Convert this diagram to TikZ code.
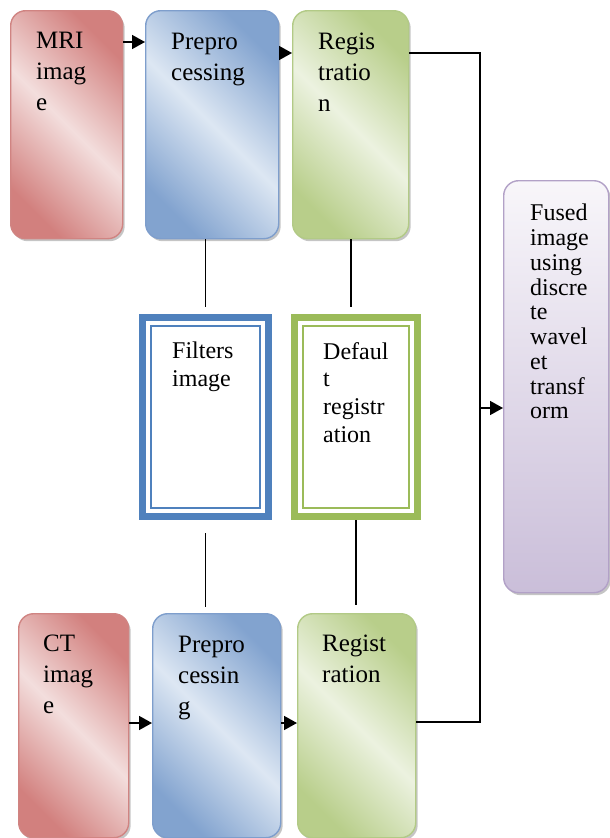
\documentclass[tikz,border=0pt]{standalone}
\usepackage{fontspec}
\setmainfont{Liberation Serif}
\usetikzlibrary{arrows.meta,shadows}

\definecolor{redline}{RGB}{208,132,130}
\definecolor{reddark}{RGB}{210,128,126}
\definecolor{redlight}{RGB}{243,222,221}
\definecolor{blueline}{RGB}{126,158,204}
\definecolor{bluedark}{RGB}{130,163,207}
\definecolor{bluelight}{RGB}{221,231,243}
\definecolor{greenline}{RGB}{178,202,134}
\definecolor{greendark}{RGB}{184,206,138}
\definecolor{greenlight}{RGB}{236,242,224}
\definecolor{purpleline}{RGB}{178,161,199}
\definecolor{purpletop}{RGB}{248,246,250}
\definecolor{purplebot}{RGB}{202,190,217}
\definecolor{frameblue}{RGB}{79,129,189}
\definecolor{framegreen}{RGB}{155,187,89}

\tikzset{
	stage/.style={rectangle, rounded corners=15pt, line width=1.4pt, anchor=north west,
		drop shadow={shadow xshift=2pt, shadow yshift=-2.5pt, fill=black!45}},
	redstage/.style={stage, draw=redline, top color=reddark, bottom color=reddark,
		middle color=redlight, shading angle=-45},
	bluestage/.style={stage, draw=blueline, top color=bluedark, bottom color=bluedark,
		middle color=bluelight, shading angle=-45},
	greenstage/.style={stage, draw=greenline, top color=greendark, bottom color=greendark,
		middle color=greenlight, shading angle=-45},
	fusestage/.style={stage, draw=purpleline, top color=purpletop, bottom color=purplebot},
	frame/.style={rectangle, line width=7pt, fill=white, anchor=north west},
	lbl/.style={anchor=north west, inner sep=0pt, align=left, font=\fontsize{25}{31}\selectfont},
	smalllbl/.style={lbl, font=\fontsize{24}{27.7}\selectfont},
	conn/.style={line width=1.6pt},
	arr/.style={conn, -{Triangle[length=13pt,width=14pt]}}
}

\begin{document}
\begin{tikzpicture}[x=1pt,y=-1pt]
		\useasboundingbox (0,0) rectangle (610,838);

		% upper row
		\node[redstage, minimum width=112pt, minimum height=228pt] (mri) at (10,10) {};
		\node[bluestage, minimum width=133pt, minimum height=228pt] (prepa) at (145,10) {};
		\node[greenstage, minimum width=116pt, minimum height=228pt] (rega) at (292,10) {};
		\node[lbl] (mritxt) at ([shift={(26pt,-22pt)}]mri.north west) {MRI\\imag\\e};
		\node[lbl] (prepatxt) at ([shift={(26pt,-23pt)}]prepa.north west) {Prepro\\cessing};
		\node[lbl] (regatxt) at ([shift={(26pt,-23pt)}]rega.north west) {Regis\\tratio\\n};

		% lower row
		\node[redstage, minimum width=110pt, minimum height=224pt] (ct) at (18,613) {};
		\node[bluestage, minimum width=128pt, minimum height=224pt] (prepb) at (152,613) {};
		\node[greenstage, minimum width=118pt, minimum height=224pt] (regb) at (297,613) {};
		\node[lbl] (cttxt) at ([shift={(25pt,-22pt)}]ct.north west) {CT\\imag\\e};
		\node[lbl] (prepbtxt) at ([shift={(26pt,-23pt)}]prepb.north west) {Prepro\\cessin\\g};
		\node[lbl] (regbtxt) at ([shift={(25pt,-22pt)}]regb.north west) {Regist\\ration};

		% middle frames
		\node[frame, draw=frameblue, minimum width=126pt, minimum height=199pt] (filt) at (139,314) {};
		\node[frame, draw=framegreen, minimum width=123pt, minimum height=199pt] (dflt) at (291,314) {};
		\draw[frameblue, line width=1.8pt] ([shift={(12pt,12pt)}]filt.south west) rectangle ([shift={(-12pt,-12pt)}]filt.north east);
		\draw[framegreen, line width=1.8pt] ([shift={(12pt,12pt)}]dflt.south west) rectangle ([shift={(-12pt,-12pt)}]dflt.north east);
		\node[smalllbl] (filttxt) at ([shift={(33pt,-28pt)}]filt.north west) {Filters\\image};
		\node[smalllbl] (dflttxt) at ([shift={(32pt,-28pt)}]dflt.north west) {Defaul\\t\\registr\\ation};

		% output
		\node[fusestage, minimum width=105pt, minimum height=412pt] (fused) at (503,180) {};
		\node[smalllbl, font=\fontsize{24}{24.75}\selectfont] (fusedtxt) at ([shift={(27pt,-24pt)}]fused.north west)
			{Fused\\image\\using\\discre\\te\\wavel\\et\\transf\\orm};

		% arrows along the rows
		\draw[arr] ([yshift=-32pt]mri.north east) -- ([yshift=-32pt]prepa.north west);
		\draw[arr] ([yshift=-43pt]prepa.north east) -- ([yshift=-43pt]rega.north west);
		\draw[arr] ([yshift=-110pt]ct.north east) -- ([yshift=-110pt]prepb.north west);
		\draw[arr] ([yshift=-110pt]prepb.north east) -- ([yshift=-110pt]regb.north west);

		% links to the frames
		\draw[conn] (prepa.south -| filt.north) -- ([yshift=7pt]filt.north);
		\draw[conn] (rega.south) -- ([yshift=7pt]rega.south |- dflt.north);
		\draw[conn] ([yshift=-13pt]filt.south) -- ([yshift=6pt]filt.south |- prepb.north);
		\draw[conn] (dflt.south) -- ([yshift=8pt]dflt.south |- regb.north);

		% both registrations feed the fusion
		\coordinate (bus) at (480,408);
		\draw[conn] ([yshift=-43pt]rega.north east) -| (bus) |- ([yshift=-109pt]regb.north east);
		\draw[arr] (bus) -- (fused.west |- bus);
	\end{tikzpicture}
\end{document}
